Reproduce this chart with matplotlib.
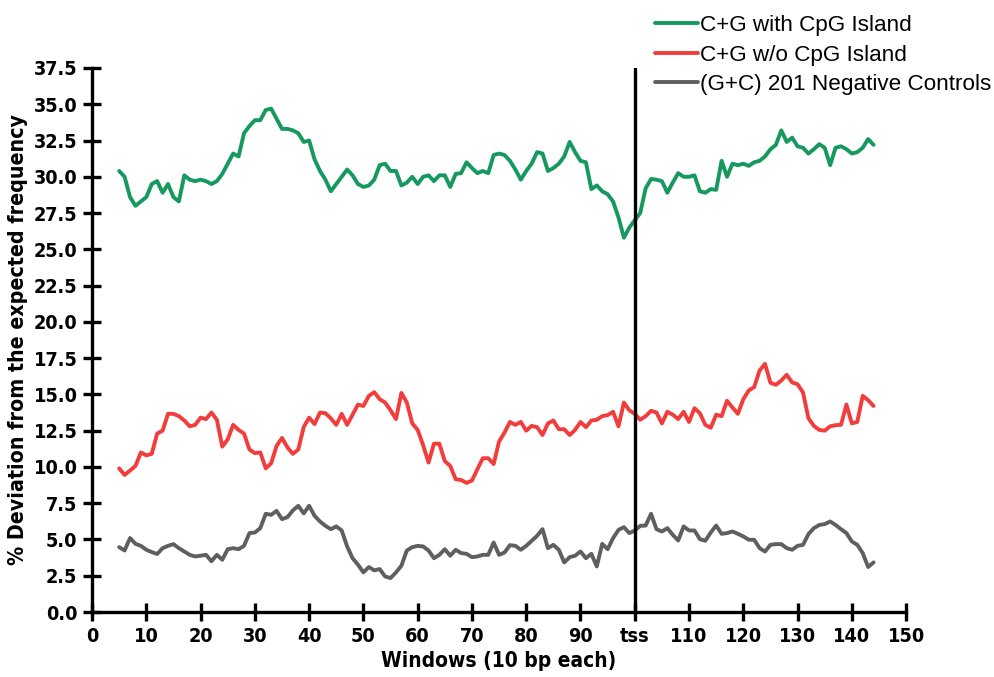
import matplotlib
matplotlib.use("Agg")
import matplotlib.pyplot as plt
import numpy as np

# windows 5..144
windows = np.arange(5, 145)

with_cpg = [30.4, 30.0, 28.6, 28.0, 28.3, 28.6, 29.5, 29.7, 28.9, 29.5,
            28.6, 28.3, 30.1, 29.8, 29.7, 29.8, 29.7, 29.5, 29.7, 30.2,
            30.9, 31.6, 31.4, 33.0, 33.5, 33.9, 33.9, 34.6, 34.7, 34.0,
            33.3, 33.3, 33.2, 33.0, 32.4, 32.5, 31.2, 30.4, 29.8, 29.0,
            29.5, 30.0, 30.5, 30.1, 29.5, 29.3, 29.4,
            29.8, 30.8, 30.9, 30.4, 30.4, 29.4, 29.6, 30.0, 29.5, 30.0,
            30.1, 29.7, 30.1, 30.1, 29.3, 30.2, 30.25, 31.0, 30.6, 30.25,
            30.4, 30.25, 31.5, 31.6, 31.5, 31.1, 30.5, 29.8, 30.4, 30.9,
            31.7, 31.6, 30.4, 30.6, 30.9, 31.4, 32.4, 31.7, 31.1, 31.0,
            29.15, 29.4, 29.0, 28.8, 28.3, 27.2, 25.8, 26.5, 27.0, 27.5,
            29.2, 29.85,
            29.8, 29.7, 28.9, 29.6, 30.25, 30.0, 30.0, 30.1, 29.0, 28.9,
            29.15, 29.1, 31.1, 30.0, 30.9, 30.8, 30.9, 30.75, 31.0, 31.1,
            31.4, 31.9, 32.2, 33.2, 32.4, 32.7, 32.1, 32.0, 31.6, 31.9,
            32.25, 32.0, 30.8, 32.0, 32.1, 31.9, 31.6, 31.7, 32.0, 32.6,
            32.2]

without_cpg = [9.9, 9.45, 9.75, 10.07, 11.0, 10.8, 10.9, 12.3, 12.5, 13.66,
               13.66, 13.5, 13.2, 12.8, 12.9, 13.4, 13.3, 13.75, 13.25, 11.4,
               11.9, 12.9, 12.55, 12.3, 11.2, 10.95, 11.0, 9.9, 10.25, 11.45,
               12.0, 11.35, 10.9, 11.2, 12.75, 13.4, 12.95, 13.75, 13.7, 13.35,
               12.9, 13.66, 12.9, 13.6, 14.3, 14.2, 14.9,
               15.15, 14.67, 14.44, 13.9, 13.3, 15.1, 14.44, 13.0, 12.55, 11.5,
               10.3, 11.6, 11.6, 10.4, 10.07, 9.15, 9.1, 8.9, 9.06, 9.84,
               10.6, 10.6, 10.2, 11.75, 12.37, 13.1, 12.9, 13.1, 12.5, 12.83,
               12.74, 12.2, 13.0, 13.2, 12.6, 12.6, 12.2, 12.55, 13.1, 12.74,
               13.2, 13.25, 13.5, 13.57, 13.8, 12.8, 14.44, 13.9, 13.66, 13.25,
               13.5, 13.87,
               13.75, 13.0, 13.8, 13.6, 13.3, 13.8, 13.1, 14.05, 13.7, 12.9,
               12.7, 13.6, 13.5, 14.56, 14.1, 13.66, 14.67, 15.27, 15.5, 16.65,
               17.1, 15.8, 15.66, 15.96, 16.35, 15.82, 15.7, 15.13, 13.36, 12.83,
               12.55, 12.5, 12.8, 12.88, 12.9, 14.3, 13.0, 13.1, 14.9, 14.6,
               14.2]

neg_controls = [4.47, 4.24, 5.1, 4.7, 4.56, 4.29, 4.13, 4.0, 4.4, 4.56,
                4.68, 4.4, 4.17, 3.94, 3.83, 3.88, 3.94, 3.5, 3.94, 3.6,
                4.33, 4.4, 4.33, 4.56, 5.44, 5.48, 5.78, 6.77, 6.7, 6.97,
                6.4, 6.54, 7.0, 7.32, 6.8, 7.32, 6.63, 6.24, 5.94, 5.71,
                5.9, 5.62, 4.52, 3.71, 3.26, 2.73, 3.1,
                2.87, 2.96, 2.45, 2.34, 2.73, 3.19, 4.24, 4.47, 4.56, 4.52,
                4.24, 3.71, 3.94, 4.33, 3.88, 4.29, 4.06, 4.01, 3.78, 3.83,
                3.94, 3.94, 4.79, 3.94, 4.1, 4.61, 4.56, 4.29, 4.56, 4.9,
                5.25, 5.71, 4.4, 4.63, 4.29, 3.42, 3.78, 3.88, 4.17, 3.71,
                4.01, 3.14, 4.7, 4.33, 5.09, 5.66, 5.85, 5.44, 5.62, 5.94,
                5.96, 6.77,
                5.71, 5.55, 5.78, 5.32, 4.93, 5.9, 5.62, 5.62, 5.02, 4.91,
                5.48, 5.96, 5.39, 5.44, 5.55, 5.39, 5.21, 4.98, 4.98, 4.4,
                4.17, 4.63, 4.68, 4.68, 4.4, 4.29, 4.56, 4.63, 5.37, 5.78,
                6.0, 6.06, 6.24, 6.0, 5.71, 5.44, 4.86, 4.63, 4.06, 3.1,
                3.42]

labels = ["C+G with CpG Island", "C+G w/o CpG Island",
          "(G+C) 201 Negative Controls"]
colors = ["#15995f", "#f23d3d", "#5f5f5f"]

xticks = np.arange(0, 151, 10)
xticklabels = [("tss" if t == 100 else str(t)) for t in xticks]
yticks = np.arange(0, 37.6, 2.5)
tss = 100

plt.rcParams["font.family"] = ["Liberation Sans", "DejaVu Sans"]
# condensed bold for the axis texts
axis_font = dict(family=["DejaVu Sans"], fontstretch="condensed",
                 fontweight="bold")

fig = plt.figure(figsize=(9.94, 6.77), dpi=100)
ax = fig.add_axes([0.0926, 0.096, 0.819, 0.8036])

for series, lab, col in zip([with_cpg, without_cpg, neg_controls], labels, colors):
    ax.plot(windows, series, color=col, lw=2.8, label=lab,
            solid_joinstyle="round", solid_capstyle="round")

ax.axvline(tss, color="black", lw=2.4)

ax.set_xlim(0, 150)
ax.set_ylim(0, 37.5)
ax.set_xticks(xticks)
ax.set_xticklabels(xticklabels, fontsize=14.2, **axis_font)
ax.set_yticks(yticks)
ax.set_yticklabels([f"{v:.1f}" for v in yticks], fontsize=14.2, **axis_font)

for side in ["top", "right"]:
    ax.spines[side].set_visible(False)
for side in ["left", "bottom"]:
    ax.spines[side].set_linewidth(2.4)
ax.tick_params(direction="inout", length=13, width=2.4, pad=4)

ax.set_xlabel("Windows (10 bp each)", fontsize=15, labelpad=4, **axis_font)
ax.set_ylabel("% Deviation from the expected frequency", fontsize=15.3,
              labelpad=4, **axis_font)

ax.legend(loc="upper left", bbox_to_anchor=(655 / 994, 1 - 15 / 677),
          bbox_transform=fig.transFigure, frameon=False,
          fontsize=16.2, handlelength=1.9, handletextpad=0.1,
          labelspacing=0.38, borderaxespad=0, borderpad=0)

fig.savefig("out.png", dpi=100)
